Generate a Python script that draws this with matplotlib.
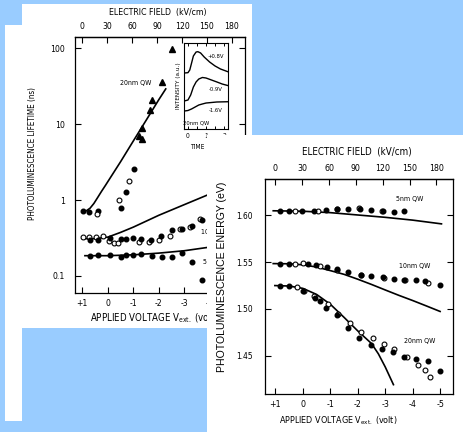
import matplotlib
matplotlib.use('Agg')
import matplotlib.pyplot as plt
from matplotlib.patches import Rectangle
from matplotlib.ticker import NullLocator

plt.rcParams['font.family'] = ['Liberation Sans Narrow', 'DejaVu Sans']
plt.rcParams['font.stretch'] = 'condensed'
plt.rcParams['mathtext.fontset'] = 'custom'
plt.rcParams['mathtext.rm'] = 'DejaVu Sans'
plt.rcParams['mathtext.it'] = 'DejaVu Sans'

W, H = 463, 432          # picture size in pixels
BLUE = '#99ccff'

# ---------------- shared axis ticks
volt_ticks = [1, 0, -1, -2, -3, -4, -5]
volt_labels = ['+1', '0', '-1', '-2', '-3', '-4', '-5']
field_ticks = [0, 30, 60, 90, 120, 150, 180]
field_labels = ['0', '30', '60', '90', '120', '150', '180']

# ---------------- left chart: PL lifetime (ns)
tau20_tri_v = [-2.53, -2.14, -1.75, -1.65, -1.33, -1.24, -1.33]
tau20_tri = [97, 36, 21, 15.4, 8.9, 6.9, 6.4]
tau20_fill_v = [0.96, 0.73, 0.37, -0.52, -0.71, -1.03]
tau20_fill = [0.71, 0.70, 0.71, 0.79, 1.27, 2.6]
tau20_open_v = [0.43, -0.45, -0.84]
tau20_open = [0.65, 0.99, 1.76]

tau10_fill_v = [0.70, 0.37, -0.09, -0.52, -0.71, -1.0, -1.30, -1.69, -2.09, -2.50, -2.90, -3.29, -3.68]
tau10_fill = [0.30, 0.30, 0.315, 0.31, 0.31, 0.315, 0.31, 0.30, 0.34, 0.40, 0.41, 0.46, 0.54]
tau10_open_v = [0.96, 0.73, 0.46, 0.2, -0.06, -0.25, -0.41, -1.24, -1.62, -2.02, -2.44, -2.83, -3.22, -3.62]
tau10_open = [0.33, 0.33, 0.33, 0.34, 0.29, 0.275, 0.275, 0.28, 0.28, 0.30, 0.34, 0.42, 0.44, 0.57]

tau5_fill_v = [0.70, 0.40, -0.09, -0.5, -0.71, -1.0, -1.30, -1.72, -2.11, -2.5, -2.9, -3.29, -3.68]
tau5_fill = [0.185, 0.187, 0.187, 0.18, 0.19, 0.19, 0.195, 0.185, 0.176, 0.18, 0.2, 0.153, 0.0875]

fit20_v = [1.0, 0.85, 0.7, 0.55, 0.4, 0.25, 0.1, 0.0, -0.5, -1.0, -1.5, -2.0, -2.27]
fit20_tau = [0.70, 0.72, 0.78, 0.90, 1.08, 1.30, 1.55, 1.75, 3.2, 6.0, 11.2, 21, 29]
fit10_v = [1.0, 0.5, 0.0, -0.5, -1.0, -2.0, -3.0, -4.0, -5.0]
fit10_tau = [0.31, 0.31, 0.325, 0.375, 0.44, 0.63, 0.87, 1.2, 1.6]
fit5_v = [0.9, 0.0, -1.0, -2.0, -3.0, -4.0, -5.0]
fit5_tau = [0.185, 0.185, 0.19, 0.2, 0.215, 0.24, 0.27]

# inset: transients (time, intensity a.u.)
tr_t = [[-0.2, 0.0, 0.1, 0.2, 0.3, 0.45, 0.55, 0.7, 0.9, 1.2, 1.5, 1.8, 2.2],
        [-0.2, 0.0, 0.15, 0.3, 0.45, 0.6, 0.8, 1.0, 1.3, 1.6, 1.9, 2.2],
        [-0.2, 0.0, 0.2, 0.4, 0.6, 0.8, 1.0, 1.3, 1.6, 2.2]]
tr_i = [[0.651, 0.655, 0.686, 0.767, 0.849, 0.895, 0.899, 0.884, 0.837, 0.779, 0.733, 0.698, 0.667],
        [0.326, 0.337, 0.395, 0.488, 0.547, 0.581, 0.599, 0.593, 0.570, 0.547, 0.523, 0.506],
        [0.209, 0.215, 0.233, 0.256, 0.279, 0.291, 0.302, 0.308, 0.314, 0.317]]
tr_labels = ['+0.8V', '-0.9V', '-1.6V']
tr_label_i = [0.84, 0.465, 0.22]

# ---------------- right chart: PL energy (eV)
e5_fill_v = [0.84, 0.50, 0.05, -0.40, -0.84, -1.23, -1.65, -2.08, -2.50, -2.93, -3.32, -3.69]
e5_fill = [1.605, 1.605, 1.605, 1.605, 1.606, 1.607, 1.607, 1.607, 1.606, 1.605, 1.604, 1.605]
e5_open_v = [0.29, -0.55, -1.25, -2.05, -2.9]
e5_open = [1.605, 1.605, 1.607, 1.6075, 1.6045]

e10_fill_v = [0.84, 0.50, -0.19, -0.48, -0.89, -1.23, -1.65, -2.10, -2.50, -2.93, -3.32, -3.69, -4.14, -4.44, -4.99]
e10_fill = [1.5484, 1.548, 1.548, 1.5466, 1.5444, 1.5425, 1.5395, 1.5362, 1.5355, 1.534, 1.532, 1.5313, 1.531, 1.530, 1.526]
e10_open_v = [0.29, -0.01, -0.62, -1.25, -2.12, -2.95, -3.72, -4.56]
e10_open = [1.548, 1.549, 1.5455, 1.5415, 1.5365, 1.533, 1.5305, 1.528]

e20_fill_v = [0.84, 0.50, -0.01, -0.44, -0.62, -0.84, -1.23, -1.65, -2.05, -2.48, -2.90, -3.29, -3.69, -4.14, -4.57, -4.99]
e20_fill = [1.524, 1.524, 1.519, 1.512, 1.508, 1.501, 1.493, 1.480, 1.469, 1.461, 1.457, 1.454, 1.449, 1.446, 1.444, 1.434]
e20_open_v = [0.21, -0.05, -0.40, -0.90, -1.28, -1.71, -2.10, -2.54, -2.96, -3.33, -3.78, -4.20, -4.45, -4.63]
e20_open = [1.5235, 1.5195, 1.514, 1.505, 1.495, 1.485, 1.4754, 1.469, 1.463, 1.457, 1.4487, 1.4405, 1.435, 1.4277]

fit5e_v = [1.08, 0, -1, -2, -3, -4, -5.05]
fit5e = [1.605, 1.6045, 1.603, 1.6005, 1.598, 1.595, 1.591]
fit10e_v = [1.08, 0.5, 0, -0.5, -1, -1.5, -2, -2.5, -3, -3.5, -4, -4.5, -5]
fit10e = [1.5485, 1.5483, 1.5472, 1.5448, 1.5410, 1.5370, 1.5318, 1.5262, 1.5203, 1.5145, 1.5090, 1.5032, 1.4973]
fit20e_v = [1.02, 0.5, 0, -0.5, -1, -1.5, -2, -2.5, -2.75, -3.0, -3.3]
fit20e = [1.525, 1.5245, 1.522, 1.5155, 1.505, 1.491, 1.4765, 1.463, 1.452, 1.438, 1.419]

energy_ticks = [1.45, 1.50, 1.55, 1.60]
energy_labels = ['1.45', '1.50', '1.55', '1.60']


def box(x0, y0, x1, y1):
    # pixel box (top-left origin) -> figure fraction rect
    return [x0 / W, 1 - y1 / H, (x1 - x0) / W, (y1 - y0) / H]


def to_field(v):
    return 30.7 * (1 - v)


def to_volt(f):
    return 1 - f / 30.7


def style_axes(ax, size):
    ax.set_xticks(volt_ticks)
    ax.set_xticklabels(volt_labels)
    ax.tick_params(axis='both', which='both', direction='in', length=4, width=0.8,
                   labelsize=size, right=True)
    ax.tick_params(axis='y', which='major', pad=7)
    ax.tick_params(axis='x', pad=4)
    for s in ax.spines.values():
        s.set_linewidth(0.9)
    top = ax.secondary_xaxis('top', functions=(to_field, to_volt))
    top.set_xticks(field_ticks)
    top.set_xticklabels(field_labels)
    top.tick_params(direction='in', length=4, width=0.8, labelsize=size, pad=4)
    top.spines['top'].set_linewidth(0.9)


fig = plt.figure(figsize=(W / 100, H / 100), dpi=100, facecolor=BLUE)

# paper sheets
fig.patches.append(Rectangle((5 / W, 1 - 421 / H), 17 / W, 396 / H, transform=fig.transFigure,
                             facecolor='white', edgecolor='none', zorder=0.2))
fig.patches.append(Rectangle((22 / W, 1 - 328 / H), 230 / W, 324 / H, transform=fig.transFigure,
                             facecolor='white', edgecolor='none', zorder=0.5))
fig.patches.append(Rectangle((207 / W, 0), 256 / W, 297 / H, transform=fig.transFigure,
                             facecolor='white', edgecolor='none', zorder=2))

# ---- left chart
ax1 = fig.add_axes(box(75, 37, 245, 293), zorder=1)
ax1.set_facecolor('white')
ax1.set_yscale('log')
ax1.plot(fit20_v, fit20_tau, color='black', lw=1.2)
ax1.plot(fit10_v, fit10_tau, color='black', lw=1.2)
ax1.plot(fit5_v, fit5_tau, color='black', lw=1.2)
ax1.plot(tau20_tri_v, tau20_tri, '^', color='black', ms=4.5)
ax1.plot(tau20_fill_v, tau20_fill, 'o', color='black', ms=3.3)
ax1.plot(tau20_open_v, tau20_open, 'o', mfc='white', mec='black', mew=0.8, ms=3.5)
ax1.plot(tau10_open_v, tau10_open, 'o', mfc='white', mec='black', mew=0.8, ms=3.5)
ax1.plot(tau10_fill_v, tau10_fill, 'o', color='black', ms=3.3)
ax1.plot(tau5_fill_v, tau5_fill, 'o', color='black', ms=3.3)
ax1.text(-1.1, 35, '20nm QW', fontsize=5, ha='center', va='center')
ax1.text(-3.66, 0.38, '10nm QW', fontsize=5, ha='left', va='center')
ax1.text(-3.75, 0.155, '5nm QW', fontsize=5, ha='left', va='center')
ax1.set_xlim(1.29, -5.38)
ax1.set_ylim(0.0597, 140)
ax1.set_yticks([0.1, 1, 10, 100])
ax1.set_yticklabels(['0.1', '1', '10', '100'])
ax1.yaxis.set_minor_locator(NullLocator())
style_axes(ax1, 6.2)

fig.text(158 / W, 1 - 12 / H, 'ELECTRIC FIELD  (kV/cm)', ha='center', va='center',
         fontsize=6.3, zorder=1)
fig.text(90 / W, 1 - 318 / H, 'APPLIED VOLTAGE V$_{ext.}$ (volt)', ha='left', va='center',
         fontsize=6.9, zorder=1)
fig.text(33 / W, 1 - 154 / H, 'PHOTOLUMINESCENCE LIFETIME (ns)', rotation=90,
         ha='center', va='center', fontsize=5.8, zorder=1)

# inset with transients
axi = fig.add_axes(box(184, 43, 228, 129), zorder=1.1)
for t, i in zip(tr_t, tr_i):
    axi.plot(t, i, color='black', lw=1.0)
for lab, li in zip(tr_labels, tr_label_i):
    axi.text(1.56, li, lab, fontsize=4.2, ha='center', va='center')
axi.text(0.45, 0.07, '20nm QW', fontsize=4.2, ha='center', va='center')
axi.set_xlim(-0.22, 2.22)
axi.set_ylim(0, 1)
axi.set_xticks([0, 1, 2])
axi.set_xticklabels(['0', '1', '2'])
axi.set_xticks([0.5, 1.5], minor=True)
axi.set_yticks([])
axi.tick_params(axis='x', which='both', direction='in', length=2.5, width=0.7,
                top=True, labelsize=4.8, pad=3)
for s in axi.spines.values():
    s.set_linewidth(0.8)
axi.set_xlabel('TIME', fontsize=4.8, labelpad=2)
axi.xaxis.set_label_coords(0.3, -0.17)
axi.set_ylabel('INTENSITY (a.u.)', fontsize=4.6, labelpad=2)

# ---- right chart
ax2 = fig.add_axes(box(265, 179, 453, 394), zorder=3)
ax2.set_facecolor('white')
ax2.plot(fit5e_v, fit5e, color='black', lw=1.2)
ax2.plot(fit10e_v, fit10e, color='black', lw=1.2)
ax2.plot(fit20e_v, fit20e, color='black', lw=1.2)
for v, e in [(e5_open_v, e5_open), (e10_open_v, e10_open), (e20_open_v, e20_open)]:
    ax2.plot(v, e, 'o', mfc='white', mec='black', mew=0.8, ms=3.5)
for v, e in [(e5_fill_v, e5_fill), (e10_fill_v, e10_fill), (e20_fill_v, e20_fill)]:
    ax2.plot(v, e, 'o', color='black', ms=3.3)
ax2.text(-3.9, 1.6177, '5nm QW', fontsize=5, ha='center', va='center')
ax2.text(-4.08, 1.5455, '10nm QW', fontsize=5, ha='center', va='center')
ax2.text(-4.26, 1.466, '20nm QW', fontsize=5, ha='center', va='center')
ax2.set_xlim(1.38, -5.47)
ax2.set_ylim(1.409, 1.639)
ax2.set_yticks(energy_ticks)
ax2.set_yticklabels(energy_labels)
style_axes(ax2, 6.3)
ax2.tick_params(axis='y', labelsize=6, pad=9)

fig.text(357 / W, 1 - 152 / H, 'ELECTRIC FIELD  (kV/cm)', ha='center', va='center',
         fontsize=7, zorder=3)
fig.text(338 / W, 1 - 421 / H, 'APPLIED VOLTAGE V$_{ext.}$ (volt)', ha='center', va='center',
         fontsize=6.4, zorder=3)
fig.text(222 / W, 1 - 277 / H, 'PHOTOLUMINESCENCE ENERGY (eV)', rotation=90,
         ha='center', va='center', fontsize=7.6, family='Liberation Sans',
         stretch='normal', zorder=3)

fig.savefig('out.png', dpi=100, facecolor=BLUE)
